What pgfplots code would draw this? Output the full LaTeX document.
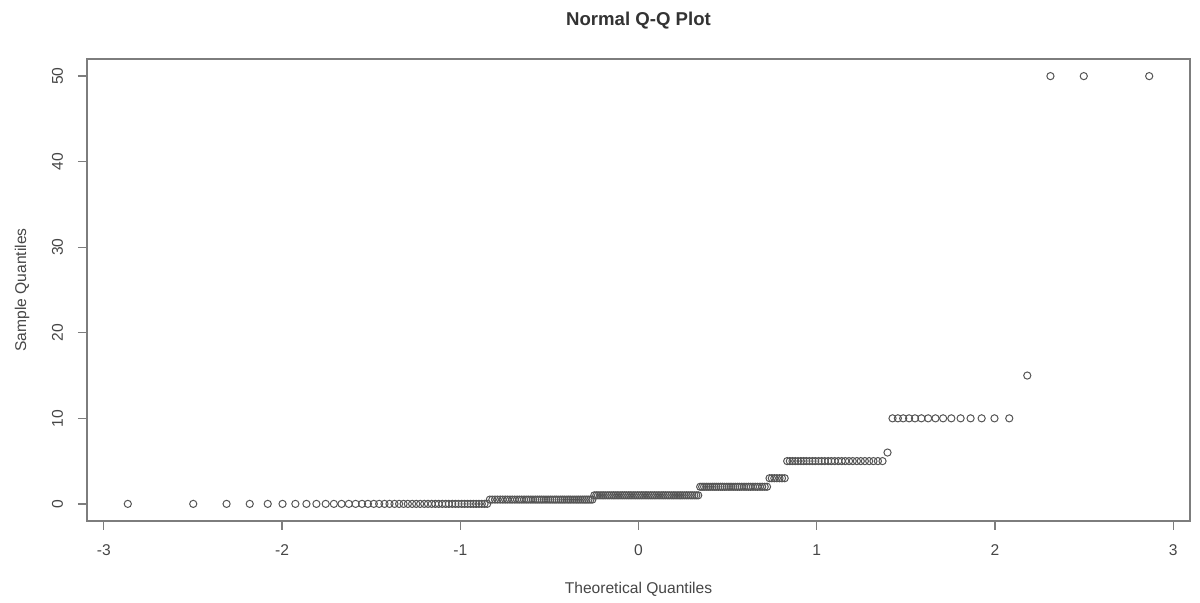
\documentclass[border=0pt]{standalone}
\usepackage{pgfplots}
\pgfplotsset{compat=1.18}
\usepackage{fontspec}
\setmainfont{Liberation Sans}
\definecolor{boxc}{RGB}{125,125,125}
\definecolor{ptc}{RGB}{85,85,85}
\definecolor{txt}{RGB}{70,70,70}
\begin{document}
\begin{tikzpicture}
\path (-43.5pt,-38.5pt) rectangle (556.5pt,260.5pt);
\begin{axis}[
  at={(0,0)}, anchor=south west,
  scale only axis, width=551.5pt, height=231pt,
  xmin=-3.094, xmax=3.094, ymin=-2, ymax=52,
  axis line style={boxc, line width=0.7pt},
  tick style={boxc, line width=0.7pt},
  tick align=outside, major tick length=4.5pt,
  tick pos=left,
  xtick={-3,-2,-1,0,1,2,3}, xticklabels={-3,-2,-1,0,1,2,3},
  ytick={0,10,20,30,40,50}, yticklabels={0,10,20,30,40,50},
  /pgf/number format/assume math mode=true,
  ticklabel style={font=\fontsize{7.8}{9}\selectfont, text=txt},
  xticklabel shift=4pt,
  yticklabel shift=4pt,
  yticklabel style={rotate=90, anchor=south},
  title={Normal Q-Q Plot},
  every axis title/.style={at={(axis description cs:0.5,1.0823)}, anchor=center, font=\bfseries\fontsize{9.3}{11}\selectfont, text=black!80},
  xlabel={Theoretical Quantiles},
  every axis x label/.style={at={(axis description cs:0.5,-0.1472)}, anchor=center, font=\fontsize{7.8}{9}\selectfont, text=txt},
  ylabel={Sample Quantiles},
  every axis y label/.style={at={(axis description cs:-0.0589,0.5)}, anchor=center, rotate=90, font=\fontsize{7.8}{9}\selectfont, text=txt},
]
\addplot[only marks, mark=o, mark size=1.8pt, mark options={draw=ptc, line width=0.5pt}] table[row sep=\\] {
x y\\
-2.865 0\\ -2.498 0\\ -2.311 0\\ -2.181 0\\ -2.080 0\\ -1.997 0\\ -1.925 0\\ -1.863 0\\
-1.807 0\\ -1.755 0\\ -1.709 0\\ -1.666 0\\ -1.625 0\\ -1.587 0\\ -1.551 0\\ -1.518 0\\
-1.485 0\\ -1.455 0\\ -1.425 0\\ -1.397 0\\ -1.369 0\\ -1.343 0\\ -1.318 0\\ -1.294 0\\
-1.270 0\\ -1.247 0\\ -1.225 0\\ -1.202 0\\ -1.181 0\\ -1.160 0\\ -1.140 0\\ -1.121 0\\
-1.101 0\\ -1.082 0\\ -1.064 0\\ -1.045 0\\ -1.027 0\\ -1.010 0\\ -0.992 0\\ -0.976 0\\
-0.959 0\\ -0.942 0\\ -0.926 0\\ -0.911 0\\ -0.895 0\\ -0.879 0\\ -0.864 0\\ -0.849 0\\
-0.834 0.5\\ -0.820 0.5\\ -0.805 0.5\\ -0.791 0.5\\ -0.776 0.5\\ -0.762 0.5\\ -0.748 0.5\\ -0.735 0.5\\
-0.721 0.5\\ -0.708 0.5\\ -0.694 0.5\\ -0.681 0.5\\ -0.668 0.5\\ -0.655 0.5\\ -0.642 0.5\\ -0.629 0.5\\
-0.617 0.5\\ -0.604 0.5\\ -0.592 0.5\\ -0.579 0.5\\ -0.567 0.5\\ -0.555 0.5\\ -0.543 0.5\\ -0.531 0.5\\
-0.519 0.5\\ -0.507 0.5\\ -0.495 0.5\\ -0.483 0.5\\ -0.471 0.5\\ -0.460 0.5\\ -0.448 0.5\\ -0.436 0.5\\
-0.425 0.5\\ -0.414 0.5\\ -0.402 0.5\\ -0.391 0.5\\ -0.380 0.5\\ -0.368 0.5\\ -0.357 0.5\\ -0.346 0.5\\
-0.335 0.5\\ -0.324 0.5\\ -0.313 0.5\\ -0.302 0.5\\ -0.292 0.5\\ -0.281 0.5\\ -0.270 0.5\\ -0.259 0.5\\
-0.248 1\\ -0.237 1\\ -0.227 1\\ -0.216 1\\ -0.205 1\\ -0.195 1\\ -0.184 1\\ -0.173 1\\
-0.163 1\\ -0.152 1\\ -0.141 1\\ -0.131 1\\ -0.120 1\\ -0.110 1\\ -0.099 1\\ -0.089 1\\
-0.078 1\\ -0.068 1\\ -0.057 1\\ -0.047 1\\ -0.037 1\\ -0.026 1\\ -0.016 1\\ -0.005 1\\
0.005 1\\ 0.016 1\\ 0.026 1\\ 0.037 1\\ 0.047 1\\ 0.057 1\\ 0.068 1\\ 0.078 1\\
0.089 1\\ 0.099 1\\ 0.110 1\\ 0.120 1\\ 0.131 1\\ 0.141 1\\ 0.152 1\\ 0.163 1\\
0.173 1\\ 0.184 1\\ 0.195 1\\ 0.205 1\\ 0.216 1\\ 0.227 1\\ 0.237 1\\ 0.248 1\\
0.259 1\\ 0.270 1\\ 0.281 1\\ 0.292 1\\ 0.302 1\\ 0.313 1\\ 0.324 1\\ 0.335 1\\
0.346 2\\ 0.357 2\\ 0.368 2\\ 0.380 2\\ 0.391 2\\ 0.402 2\\ 0.414 2\\ 0.425 2\\
0.436 2\\ 0.448 2\\ 0.460 2\\ 0.471 2\\ 0.483 2\\ 0.495 2\\ 0.507 2\\ 0.519 2\\
0.531 2\\ 0.543 2\\ 0.555 2\\ 0.567 2\\ 0.579 2\\ 0.592 2\\ 0.604 2\\ 0.617 2\\
0.629 2\\ 0.642 2\\ 0.655 2\\ 0.668 2\\ 0.681 2\\ 0.694 2\\ 0.708 2\\ 0.721 2\\
0.735 3\\ 0.748 3\\ 0.762 3\\ 0.776 3\\ 0.791 3\\ 0.805 3\\ 0.820 3\\
0.834 5\\ 0.849 5\\ 0.864 5\\ 0.879 5\\ 0.895 5\\ 0.911 5\\ 0.926 5\\ 0.942 5\\
0.959 5\\ 0.976 5\\ 0.992 5\\ 1.010 5\\ 1.027 5\\ 1.045 5\\ 1.064 5\\ 1.082 5\\
1.101 5\\ 1.121 5\\ 1.140 5\\ 1.160 5\\ 1.181 5\\ 1.202 5\\ 1.225 5\\ 1.247 5\\
1.270 5\\ 1.294 5\\ 1.318 5\\ 1.343 5\\ 1.369 5\\
1.397 6\\
1.425 10\\ 1.455 10\\ 1.485 10\\ 1.518 10\\ 1.551 10\\ 1.587 10\\ 1.625 10\\ 1.666 10\\
1.709 10\\ 1.755 10\\ 1.807 10\\ 1.863 10\\ 1.925 10\\ 1.997 10\\ 2.080 10\\
2.181 15\\
2.311 50\\ 2.498 50\\ 2.865 50\\
};
\end{axis}
\end{tikzpicture}
\end{document}
